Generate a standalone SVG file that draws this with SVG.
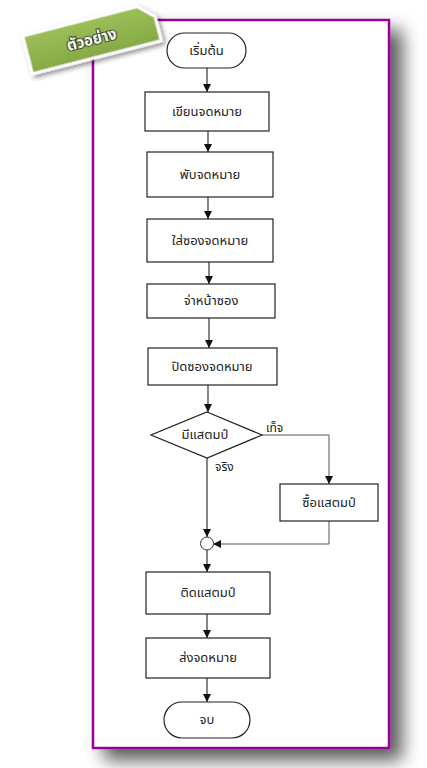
<svg xmlns="http://www.w3.org/2000/svg" width="427" height="768" viewBox="0 0 427 768">
<defs>
<filter id="shadow" x="-20%" y="-20%" width="150%" height="150%">
<feDropShadow dx="12" dy="11" stdDeviation="9" flood-color="#000" flood-opacity="0.65"/>
</filter>
<filter id="tagshadow" x="-20%" y="-40%" width="150%" height="200%">
<feDropShadow dx="2" dy="3" stdDeviation="2.5" flood-color="#000" flood-opacity="0.45"/>
</filter>
<linearGradient id="green" x1="0" y1="0" x2="0" y2="1">
<stop offset="0" stop-color="#9cbf5a"/>
<stop offset="1" stop-color="#85a944"/>
</linearGradient>
<marker id="arrow" markerUnits="userSpaceOnUse" markerWidth="9" markerHeight="9" refX="8" refY="4" orient="auto">
<path d="M0,0 L8,4 L0,8 z" fill="#111"/>
</marker>
<style>
.frame{fill:#fff;stroke:#990099;stroke-width:2.5}
.box{fill:#fff;stroke:#222;stroke-width:1.2}
.lbl{font-family:"Noto Sans Thai","Noto Sans","DejaVu Sans",sans-serif;font-size:13px;fill:#222;text-anchor:middle;dominant-baseline:central}
.edge{fill:none;stroke:#222;stroke-width:1.1}
.side{fill:none;stroke:#555;stroke-width:1}
.elbl{font-family:"Noto Sans Thai","Noto Sans","DejaVu Sans",sans-serif;font-size:12px;fill:#222}
.tagtxt{font-family:"Noto Sans Thai","Noto Sans","DejaVu Sans",sans-serif;font-size:15px;font-weight:bold;fill:#fff;stroke:#2a3a10;stroke-width:2.2;paint-order:stroke;text-anchor:middle;dominant-baseline:central}
</style>
</defs>
<rect width="427" height="768" fill="#fff"/>
<rect id="frame" class="frame" x="93" y="20" width="296" height="728" filter="url(#shadow)"/>

<g id="tag" transform="translate(22.7,36) rotate(-14.4)" filter="url(#tagshadow)">
<path d="M0,0 L118,0 L133,14 L133,39 L0,39 z" fill="url(#green)" stroke="#fff" stroke-width="3" stroke-linejoin="round"/>
<text class="tagtxt" x="66" y="21">ตัวอย่าง</text>
</g>

<g id="connectors">
<line class="edge" x1="207" y1="68" x2="207" y2="92" marker-end="url(#arrow)"/>
<line class="edge" x1="208" y1="131" x2="208" y2="152" marker-end="url(#arrow)"/>
<line class="edge" x1="208" y1="197" x2="208" y2="219" marker-end="url(#arrow)"/>
<line class="edge" x1="209" y1="262" x2="209" y2="284" marker-end="url(#arrow)"/>
<line class="edge" x1="209" y1="318" x2="209" y2="348" marker-end="url(#arrow)"/>
<line class="edge" x1="208" y1="385" x2="208" y2="412" marker-end="url(#arrow)"/>
<line class="edge" x1="207" y1="458" x2="207" y2="537" marker-end="url(#arrow)"/>
<polyline class="side" points="262,435 329,435 329,484" marker-end="url(#arrow)"/>
<polyline class="side" points="329,521 329,544 213,544" marker-end="url(#arrow)"/>
<line class="edge" x1="207" y1="550" x2="207" y2="572" marker-end="url(#arrow)"/>
<line class="edge" x1="207" y1="614" x2="207" y2="638" marker-end="url(#arrow)"/>
<line class="edge" x1="207" y1="678" x2="207" y2="702" marker-end="url(#arrow)"/>
<text class="elbl" x="266" y="432">เท็จ</text>
<text class="elbl" x="215" y="471">จริง</text>
</g>

<g id="start">
<rect class="box" x="167" y="33" width="79" height="35" rx="17.5"/>
<text class="lbl" x="206.5" y="50.5">เริ่มต้น</text>
</g>
<g id="write">
<rect class="box" x="145" y="92" width="124" height="39"/>
<text class="lbl" x="207" y="111.5">เขียนจดหมาย</text>
</g>
<g id="fold">
<rect class="box" x="147" y="152" width="126" height="45"/>
<text class="lbl" x="210" y="174.5">พับจดหมาย</text>
</g>
<g id="insert">
<rect class="box" x="147" y="219" width="126" height="43"/>
<text class="lbl" x="210" y="240.5">ใส่ซองจดหมาย</text>
</g>
<g id="address">
<rect class="box" x="147" y="284" width="128" height="34"/>
<text class="lbl" x="211" y="301">จ่าหน้าซอง</text>
</g>
<g id="seal">
<rect class="box" x="148" y="348" width="129" height="37"/>
<text class="lbl" x="212" y="366.5">ปิดซองจดหมาย</text>
</g>
<g id="decision">
<polygon class="box" points="207,412 262,435 207,458 151,435"/>
<text class="lbl" x="205" y="435">มีแสตมป์</text>
</g>
<g id="buy">
<rect class="box" x="280" y="484" width="98" height="37"/>
<text class="lbl" x="329" y="502.5">ซื้อแสตมป์</text>
</g>
<g id="junction">
<circle cx="207" cy="543.5" r="6.5" fill="#fff" stroke="#333" stroke-width="1"/>
</g>
<g id="stick">
<rect class="box" x="146" y="572" width="124" height="42"/>
<text class="lbl" x="208" y="593">ติดแสตมป์</text>
</g>
<g id="send">
<rect class="box" x="146" y="638" width="124" height="40"/>
<text class="lbl" x="208" y="658">ส่งจดหมาย</text>
</g>
<g id="end">
<rect class="box" x="164" y="702" width="86" height="36" rx="18"/>
<text class="lbl" x="207" y="720">จบ</text>
</g>
</svg>
